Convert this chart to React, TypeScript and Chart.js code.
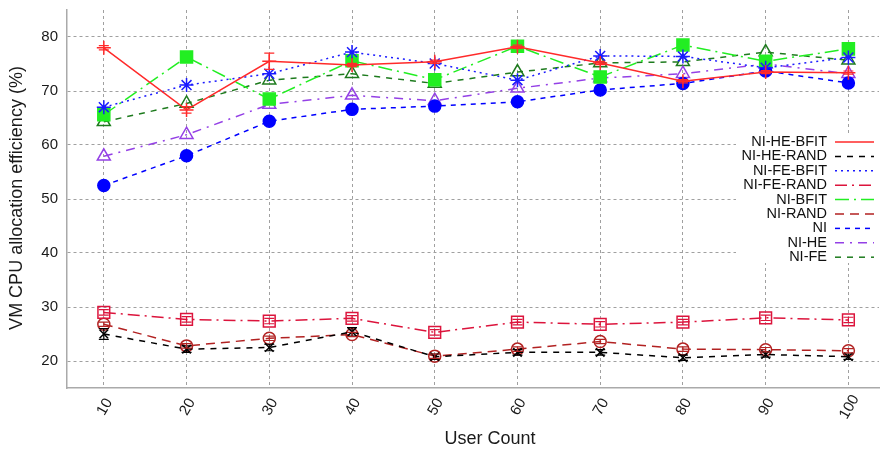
import React, { useEffect, useRef } from 'react';
import { Chart, registerables } from 'chart.js';

Chart.register(...registerables);

const userCounts = [10, 20, 30, 40, 50, 60, 70, 80, 90, 100];
const yTickValues = [20, 30, 40, 50, 60, 70, 80];

const seriesNames = ['NI-HE-BFIT', 'NI-HE-RAND', 'NI-FE-BFIT', 'NI-FE-RAND', 'NI-BFIT', 'NI-RAND', 'NI', 'NI-HE', 'NI-FE'];

const niHeBfit = [78.0, 66.5, 75.5, 74.8, 75.4, 78.2, 75.2, 71.8, 73.5, 73.4];
const niHeBfitErr = [0.4, 0.6, 1.5, 0.3, 0.3, 0.3, 0.3, 0.3, 0.3, 0.3];
const niHeRand = [25.0, 22.2, 22.5, 25.4, 20.8, 21.6, 21.6, 20.6, 21.2, 20.8];
const niHeRandErr = [1.0, 0.6, 0.6, 0.8, 0.5, 0.5, 0.5, 0.5, 0.5, 0.5];
const niFeBfit = [67.0, 71.1, 73.2, 77.2, 75.1, 72.0, 76.5, 76.4, 74.3, 76.2];
const niFeRand = [29.0, 27.7, 27.4, 27.9, 25.3, 27.2, 26.8, 27.2, 28.0, 27.6];
const niFeRandErr = [0.5, 0.5, 0.5, 0.5, 0.5, 0.5, 0.5, 0.5, 0.5, 0.5];
const niBfit = [65.6, 76.3, 68.5, 75.6, 72.1, 78.3, 72.6, 78.5, 75.5, 77.8];
const niRand = [26.8, 22.8, 24.2, 24.9, 20.9, 22.2, 23.6, 22.2, 22.1, 21.9];
const niRandErr = [0.4, 0.4, 0.4, 0.4, 0.4, 0.4, 0.4, 0.4, 0.4, 0.4];
const ni = [52.5, 58.0, 64.4, 66.6, 67.2, 68.0, 70.2, 71.4, 73.7, 71.5];
const niHe = [57.9, 61.9, 67.5, 69.2, 68.2, 70.5, 72.4, 73.2, 75.0, 73.2];
const niFe = [64.3, 67.7, 72.0, 73.2, 71.4, 73.5, 75.2, 75.4, 77.2, 75.7];

const FONT = '"Liberation Sans", Arial, Helvetica, sans-serif';

const toPoints = (arr: number[]) => userCounts.map((x, i) => ({ x, y: arr[i] }));

const errorSets: { index: number; err: number[] }[] = [
  { index: 0, err: niHeBfitErr },
  { index: 1, err: niHeRandErr },
  { index: 3, err: niFeRandErr },
  { index: 5, err: niRandErr },
];

const customPlugin = {
  id: 'customDraw',
  afterDatasetsDraw(chart: any) {
    const { ctx, scales } = chart;
    const xs = scales.x;
    const ys = scales.y;
    errorSets.forEach(({ index, err }) => {
      const ds = chart.data.datasets[index];
      const vals = ds.data as { x: number; y: number }[];
      ctx.save();
      ctx.strokeStyle = ds.borderColor;
      ctx.lineWidth = 1.2;
      ctx.setLineDash([]);
      vals.forEach((p, i) => {
        const px = xs.getPixelForValue(p.x);
        const top = ys.getPixelForValue(p.y + err[i]);
        const bot = ys.getPixelForValue(p.y - err[i]);
        ctx.beginPath();
        ctx.moveTo(px, top);
        ctx.lineTo(px, bot);
        ctx.moveTo(px - 5, top);
        ctx.lineTo(px + 5, top);
        ctx.moveTo(px - 5, bot);
        ctx.lineTo(px + 5, bot);
        ctx.stroke();
      });
      ctx.restore();
    });
  },
  afterDraw(chart: any) {
    const { ctx, chartArea, scales } = chart;
    const xs = scales.x;
    ctx.save();
    // x tick labels (rotated)
    ctx.fillStyle = '#1a1a1a';
    ctx.font = `15px ${FONT}`;
    ctx.textAlign = 'center';
    ctx.textBaseline = 'middle';
    userCounts.forEach((v) => {
      const px = xs.getPixelForValue(v);
      ctx.save();
      ctx.translate(px + 1, chartArea.bottom + 19);
      ctx.rotate(-Math.PI / 3);
      ctx.fillText(String(v), 0, 0);
      ctx.restore();
    });
    // axis titles
    ctx.font = `18px ${FONT}`;
    ctx.fillText('User Count', 490, 439);
    ctx.save();
    ctx.translate(17, (chartArea.top + chartArea.bottom) / 2 - 1);
    ctx.rotate(-Math.PI / 2);
    ctx.fillText('VM CPU allocation efficiency (%)', 0, 0);
    ctx.restore();

    // legend
    const boxLeft = 736;
    const boxTop = 133;
    const boxRight = 880;
    const boxBottom = 263;
    ctx.fillStyle = '#ffffff';
    ctx.fillRect(boxLeft, boxTop, boxRight - boxLeft, boxBottom - boxTop);
    ctx.font = `14.5px ${FONT}`;
    ctx.textAlign = 'right';
    ctx.textBaseline = 'middle';
    chart.data.datasets.forEach((ds: any, i: number) => {
      const y = 142 + i * 14.4;
      ctx.fillStyle = '#111';
      ctx.fillText(ds.label, 827, y);
      ctx.save();
      ctx.strokeStyle = ds.borderColor;
      ctx.lineWidth = ds.borderWidth;
      ctx.setLineDash(ds.borderDash || []);
      ctx.beginPath();
      ctx.moveTo(835, y);
      ctx.lineTo(874, y);
      ctx.stroke();
      ctx.restore();
    });
    ctx.restore();
  },
};

export default function App() {
  const canvasRef = useRef<HTMLCanvasElement | null>(null);

  useEffect(() => {
    if (!canvasRef.current) return;
    const mk = (
      label: string,
      arr: number[],
      color: string,
      dash: number[],
      pointStyle: string,
      radius: number,
      filled: boolean
    ) => ({
      label,
      data: toPoints(arr),
      borderColor: color,
      backgroundColor: color,
      borderWidth: 1.5,
      borderDash: dash,
      showLine: true,
      fill: false,
      tension: 0,
      pointStyle,
      pointRadius: radius,
      pointHoverRadius: radius,
      pointBorderWidth: 1.5,
      pointBorderColor: color,
      pointBackgroundColor: filled ? color : 'rgba(0,0,0,0)',
    });

    const datasets = [
      mk(seriesNames[0], niHeBfit, '#ff2a2a', [], 'cross', 7, false),
      mk(seriesNames[1], niHeRand, '#000000', [6, 6], 'crossRot', 6, false),
      mk(seriesNames[2], niFeBfit, '#1a1aff', [2, 4], 'star', 7, false),
      mk(seriesNames[3], niFeRand, '#dc143c', [12, 5, 2, 5], 'rect', 8.3, false),
      mk(seriesNames[4], niBfit, '#22ee22', [14, 5, 2, 5], 'rect', 8.5, true),
      mk(seriesNames[5], niRand, '#b22222', [9, 6], 'circle', 6, false),
      mk(seriesNames[6], ni, '#0000ff', [5, 5], 'circle', 6, true),
      mk(seriesNames[7], niHe, '#9440e6', [9, 6, 2, 6], 'triangle', 7.5, false),
      mk(seriesNames[8], niFe, '#1e7b1e', [6, 6], 'triangle', 7.5, false),
    ];

    const chart = new Chart(canvasRef.current, {
      type: 'line',
      data: { datasets },
      options: {
        animation: false,
        responsive: false,
        devicePixelRatio: 1,
        layout: { padding: { top: 10, right: 5, left: 0, bottom: 0 } },
        plugins: {
          legend: { display: false },
          tooltip: { enabled: false },
        },
        scales: {
          x: {
            type: 'linear',
            min: 5.55,
            max: 103.7,
            afterBuildTicks: (scale: any) => {
              scale.ticks = userCounts.map((v) => ({ value: v }));
            },
            afterFit: (scale: any) => {
              scale.height = 62;
              scale.paddingLeft = 0;
              scale.paddingRight = 0;
            },
            ticks: { display: false },
            grid: { color: '#a0a0a0', lineWidth: 1, drawTicks: false },
            border: { display: true, color: '#aaaaaa', width: 1.5, dash: [3, 3] },
          },
          y: {
            type: 'linear',
            min: 15,
            max: 85,
            afterBuildTicks: (scale: any) => {
              scale.ticks = yTickValues.map((v) => ({ value: v }));
            },
            afterFit: (scale: any) => {
              scale.width = 67;
              scale.paddingTop = 0;
              scale.paddingBottom = 0;
            },
            ticks: {
              color: '#1a1a1a',
              font: { family: FONT, size: 15 },
              padding: 9,
            },
            grid: { color: '#a0a0a0', lineWidth: 1, drawTicks: false },
            border: { display: true, color: '#aaaaaa', width: 1.5, dash: [3, 3] },
          },
        },
      },
      plugins: [customPlugin],
    } as any);

    return () => {
      chart.destroy();
    };
  }, []);

  return (
    <div style={{ position: 'fixed', left: 0, top: 0, width: 889, height: 450, background: '#fff' }}>
      <canvas ref={canvasRef} width={889} height={450} />
    </div>
  );
}
